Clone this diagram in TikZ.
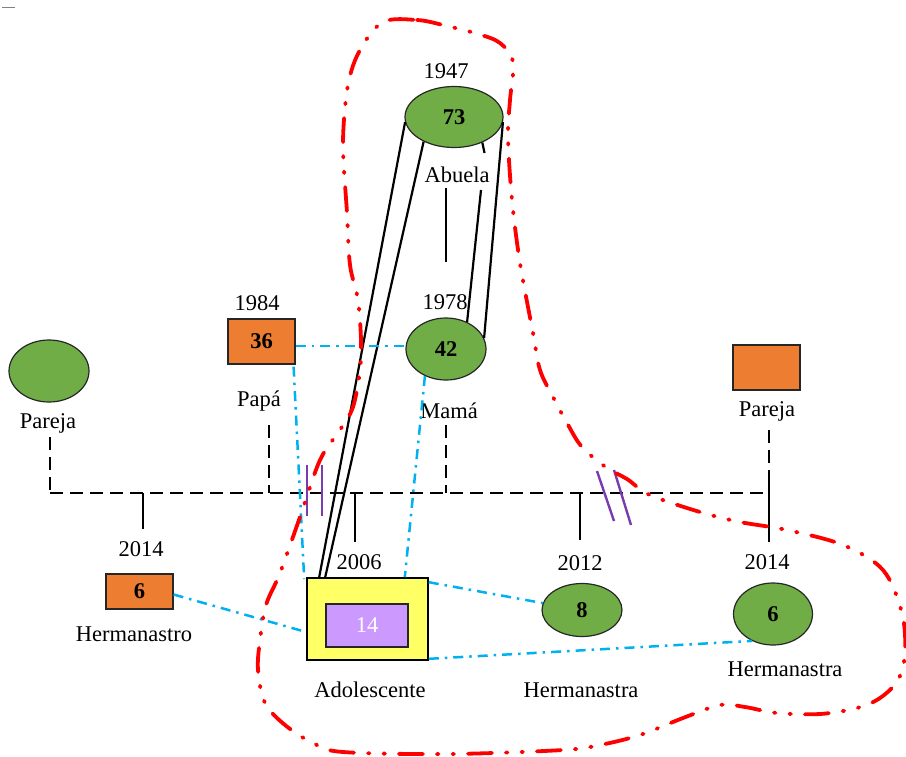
\documentclass[tikz,border=0pt]{standalone}
\usepackage{fontspec}
\setmainfont{Liberation Serif}
\usetikzlibrary{shapes.geometric,calc}
\definecolor{fgreen}{RGB}{112,173,71}
\definecolor{forange}{RGB}{237,125,49}
\definecolor{fyellow}{RGB}{255,255,102}
\definecolor{flilac}{RGB}{204,153,255}
\definecolor{fblue}{RGB}{0,176,240}
\definecolor{fred}{RGB}{255,0,0}
\definecolor{fviolet}{RGB}{120,60,175}
\begin{document}
\begin{tikzpicture}[x=1pt,y=-1pt,
  base/.style={font=\fontsize{22.5}{26}\selectfont, inner sep=0pt},
  female/.style={ellipse, draw=black!85, line width=1.2pt, fill=fgreen, inner sep=0pt,
    font=\fontsize{22.5}{26}\selectfont\bfseries},
  male/.style={rectangle, draw=black!85, line width=1.2pt, fill=forange, inner sep=0pt,
    minimum width=67pt, font=\fontsize{22.5}{26}\selectfont\bfseries},
  kin/.style={draw=black, line width=2.2pt},
  union/.style={draw=black, line width=2.2pt, dash pattern=on 13pt off 7pt},
  bond/.style={draw=fblue, line width=2.5pt, dash pattern=on 10pt off 6pt on 2.5pt off 6pt},
  cut/.style={draw=fviolet, line width=2.4pt},
  group/.style={draw=fred, line width=3.8pt, line cap=round,
    dash pattern=on 24pt off 14pt on 1.5pt off 14pt on 1.5pt off 14pt}
]
\useasboundingbox (0,0) rectangle (906,756);

% small rule at the corner
\coordinate (r1) at (2,7.5); \coordinate (r2) at (15,7.5);
\draw[gray, line width=1pt] (r1) -- (r2);

% ---- people ----
\node[female, minimum width=98pt, minimum height=61pt] (abu) at (454,117) {73};
\node[female, minimum width=80pt, minimum height=62pt] (mam) at (446,349) {42};
\node[female, minimum width=80pt, minimum height=62pt] (parL) at (49,371) {};
\node[male, minimum height=45pt] (pap) at (261.5,341.5) {36};
\node[male, minimum height=45pt] (parR) at (766.5,367.5) {};
\node[male, minimum height=35pt] (hno) at (139.5,591.5) {6};
\node[female, minimum width=80pt, minimum height=53pt] (hna1) at (582,610) {8};
\node[female, minimum width=79pt, minimum height=62pt] (hna2) at (773,614) {6};
\node[rectangle, draw=black, line width=1.6pt, fill=fyellow, minimum width=121pt,
  minimum height=82pt, inner sep=0pt] (ado) at (367.5,619) {};
\node[rectangle, draw=black!85, line width=1.6pt, fill=flilac, minimum width=82pt,
  minimum height=43pt, inner sep=0pt, base, text=white] (adoIn) at (367,625.5) {14};

% ---- labels ----
\node[base] (t1947) at (446,71) {1947};
\node[base] (tAbu) at (457,175) {Abuela};
\node[base] (t1978) at (445,302) {1978};
\node[base] (tMam) at (449,411) {Mamá};
\node[base] (t1984) at (257,303) {1984};
\node[base] (tPap) at (259,401) {Papá};
\node[base] (tParL) at (48,423) {Pareja};
\node[base] (tParR) at (767,411) {Pareja};
\node[base] (t2014a) at (141,549) {2014};
\node[base] (tHno) at (134,634) {Hermanastro};
\node[base] (t2006) at (359,562) {2006};
\node[base] (tAdo) at (370,690) {Adolescente};
\node[base] (t2012) at (580,563) {2012};
\node[base] (tHna1) at (581,690) {Hermanastra};
\node[base] (t2014b) at (767,562) {2014};
\node[base] (tHna2) at (785,669) {Hermanastra};

% ---- grandmother to mother ----
\coordinate (v1) at (446,188); \coordinate (v2) at (446,262);
\draw[kin] (v1) -- (v2);
\coordinate (s1) at (484.5,153); \coordinate (s2) at (481,190);
\draw[kin] (abu.-42) -- (s1);
\draw[kin] (s2) -- (mam.52);
\draw[kin] (abu.-6) -- (mam.16);

% ---- grandmother to teenager ----
\draw[kin] (abu.186) -- ($(ado.north west)+(13,0)$);
\draw[kin] (abu.219) -- ($(ado.north west)+(19,0)$);

% ---- couples and children ----
\coordinate (hL) at (50,493); \coordinate (hR) at (769,493);
\draw[union] (hL) -- (hR);
\draw[union] (50,437) -- (hL);
\coordinate (pD) at (269,493); \draw[union] (269,425) -- (pD);
\coordinate (mD) at (446,493); \draw[union] (446,425) -- (mD);
\coordinate (rD) at (769,483); \draw[union] (769,430) -- (rD);
\coordinate (c1) at (143,493); \coordinate (c1b) at (143,529);
\draw[kin] (c1) -- (c1b);
\coordinate (c2) at (355,493); \coordinate (c2b) at (355,542);
\draw[kin] (c2) -- (c2b);
\coordinate (c3) at (580,493); \coordinate (c3b) at (580,540);
\draw[kin] (c3) -- (c3b);
\coordinate (c4b) at (769,542);
\draw[kin] (rD) -- (c4b);

% ---- separation marks ----
\draw[cut] (307,465) -- (307,516);
\draw[cut] (322,465) -- (322,516);
\draw[cut] (597,471) -- (614,521);
\draw[cut] (614,470) -- (631,525);

% ---- emotional bonds ----
\draw[bond] (pap.east |- 0,346) -- (mam.west |- 0,346);
\draw[bond] ($(pap.south east)+(-2,2)$) -- ($(ado.north west)+(-2,2)$);
\draw[bond] (mam.-128) -- ($(ado.north east)+(-24,0)$);
\draw[bond] ($(hno.east)+(0,3)$) -- ($(ado.west)+(0,13)$);
\draw[bond] ($(ado.north east)+(0,5)$) -- (hna1.170);
\draw[bond] ($(ado.south east)+(0,-2)$) -- (hna2.-128);

% ---- household boundary ----
\draw[group] plot[smooth cycle, tension=0.55] coordinates {
 (383,22) (417,20) (443,25) (478,34) (500,43) (513,62) (510,100) (508,137)
 (512,200) (520,263) (533,333) (540,370) (553,397) (567,423) (582,447)
 (607,468) (627,479) (650,495) (700,512) (740,522) (787,530) (843,545)
 (883,570) (902,613) (905,653) (898,680) (880,698) (857,708) (820,714)
 (777,713) (745,707) (720,705) (683,718) (640,735) (600,745) (563,750)
 (450,754) (343,752) (313,743) (285,725) (265,703) (258,670) (260,640)
 (266,605) (280,573) (300,517) (320,460) (340,430) (353,407) (360,370)
 (361,340) (358,300) (350,265) (347,213) (343,143) (348,85) (360,50)};
\end{tikzpicture}
\end{document}
